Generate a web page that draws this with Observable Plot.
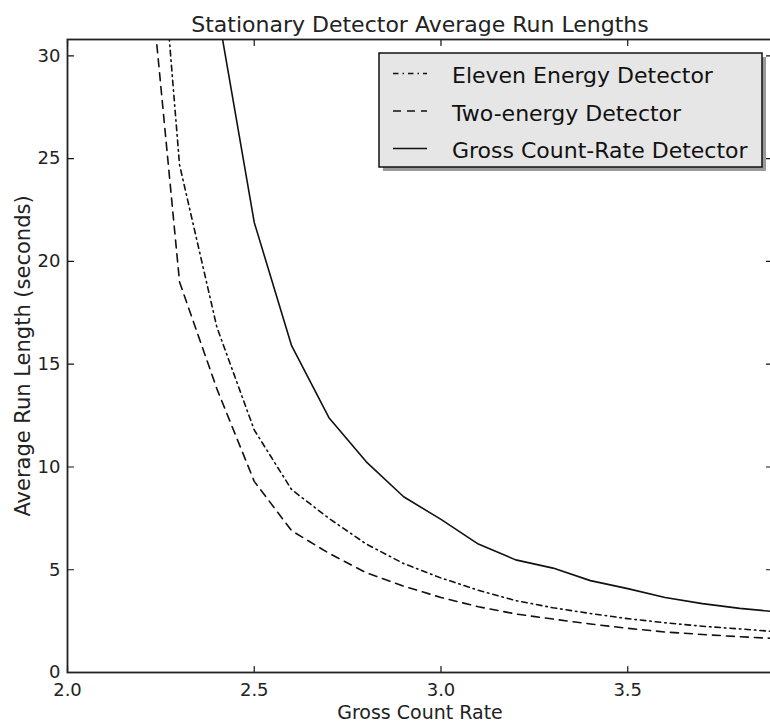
<!DOCTYPE html>
<html><head><meta charset="utf-8">
<script src="https://cdn.jsdelivr.net/npm/d3@7"></script>
<script src="https://cdn.jsdelivr.net/npm/@observablehq/plot@0.6"></script>
<style>
body{margin:0;background:#fff;overflow:hidden}
#wrap{position:relative;width:770px;height:724px}
</style></head><body><div id="wrap"></div>
<script>
// ---- data ----
const rates = [2.2, 2.3, 2.4, 2.5, 2.6, 2.7, 2.8, 2.9, 3.0, 3.1, 3.2, 3.3, 3.4, 3.5, 3.6, 3.7, 3.8, 3.9];
const elevenEnergy = [47, 24.7, 16.8, 11.8, 8.9, 7.5, 6.25, 5.3, 4.6, 4.0, 3.5, 3.15, 2.87, 2.62, 2.42, 2.25, 2.12, 1.98];
const twoEnergy    = [38, 19.0, 13.8, 9.3, 6.9, 5.8, 4.85, 4.2, 3.65, 3.2, 2.85, 2.6, 2.36, 2.15, 1.97, 1.85, 1.74, 1.65];
const grossCount   = [60, 45, 32.4, 21.9, 15.9, 12.4, 10.25, 8.55, 7.45, 6.25, 5.48, 5.08, 4.47, 4.08, 3.65, 3.35, 3.12, 2.95];
const seriesNames = ["Eleven Energy Detector", "Two-energy Detector", "Gross Count-Rate Detector"];
const xTicks = [2.0, 2.5, 3.0, 3.5];
const yTicks = [0, 5, 10, 15, 20, 25, 30];
const title = "Stationary Detector Average Run Lengths";
const xLabel = "Gross Count Rate";
const yLabel = "Average Run Length (seconds)";

// ---- build ----
const seriesValues = [elevenEnergy, twoEnergy, grossCount];
const dashes = ["5.5,4,1.5,4", "8,6", null];
const series = seriesNames.map((name, i) => ({
  name, dash: dashes[i],
  points: rates.map((r, j) => ({rate: r, arl: seriesValues[i][j]}))
}));

const ink = "#111";
const tickShape = {draw(ctx, l) { ctx.moveTo(0, 0); ctx.lineTo(0, -l); }};
const tickOpts = {length: 6, anchor: "start", shape: tickShape, stroke: ink, strokeWidth: 1.2};

const chart = Plot.plot({
  width: 770, height: 724,
  marginLeft: 67, marginRight: -2, marginTop: 39, marginBottom: 52,
  style: {fontFamily: "DejaVu Sans", fontSize: "18px", color: "#222", background: "#fff"},
  x: {domain: [2.0, 3.8876]},
  y: {domain: [0, 30.8]},
  marks: [
    ...series.map(s => Plot.line(s.points, {x: "rate", y: "arl", stroke: ink, strokeWidth: 1.6, strokeDasharray: s.dash, clip: true})),
    Plot.vector(xTicks, {x: d => d, frameAnchor: "bottom", rotate: 0, ...tickOpts}),
    Plot.vector(xTicks, {x: d => d, frameAnchor: "top", rotate: 180, ...tickOpts}),
    Plot.vector(yTicks, {y: d => d, frameAnchor: "left", rotate: 90, ...tickOpts}),
    Plot.vector(yTicks, {y: d => d, frameAnchor: "right", rotate: -90, ...tickOpts}),
    Plot.frame({stroke: "#222", strokeWidth: 1.8}),
    Plot.axisX(xTicks, {tickSize: 0, tickPadding: 11, tickFormat: d => d.toFixed(1), fontSize: 18, label: null}),
    Plot.axisY(yTicks, {tickSize: 0, tickPadding: 7, tickFormat: d => String(d), fontSize: 18, label: null}),
    Plot.text([title], {frameAnchor: "top", lineAnchor: "bottom", dy: -8, fontSize: 22, fill: "#222"}),
    Plot.text([xLabel], {frameAnchor: "bottom", lineAnchor: "bottom", dy: 46, fontSize: 19, fill: "#222"}),
    Plot.text([yLabel], {frameAnchor: "left", textAnchor: "middle", lineAnchor: "bottom", rotate: -90, dx: -38, fontSize: 21, fill: "#222"})
  ]
});
document.getElementById("wrap").appendChild(chart);

// ---- legend overlay ----
const leg = d3.select("#wrap").append("svg")
  .attr("width", 770).attr("height", 724)
  .style("position", "absolute").style("left", 0).style("top", 0)
  .style("font-family", "DejaVu Sans");
const box = {x: 379, y: 53, w: 383, h: 114};
leg.append("rect").attr("x", box.x + 4).attr("y", box.y + 4).attr("width", box.w).attr("height", box.h).attr("fill", "#9a9a9a");
leg.append("rect").attr("x", box.x).attr("y", box.y).attr("width", box.w).attr("height", box.h)
  .attr("fill", "#e6e6e6").attr("stroke", "#111").attr("stroke-width", 1.5);
const rows = leg.selectAll("g.row").data(series).join("g")
  .attr("transform", (d, i) => `translate(0,${73.5 + i * 37.5})`);
rows.append("line").attr("x1", 393).attr("x2", 427).attr("y1", 0).attr("y2", 0)
  .attr("stroke", ink).attr("stroke-width", 1.6).attr("stroke-dasharray", d => d.dash);
rows.append("text").attr("x", 452).attr("y", 9.5).attr("font-size", 22).attr("fill", "#111").text(d => d.name);
</script>
</body></html>
